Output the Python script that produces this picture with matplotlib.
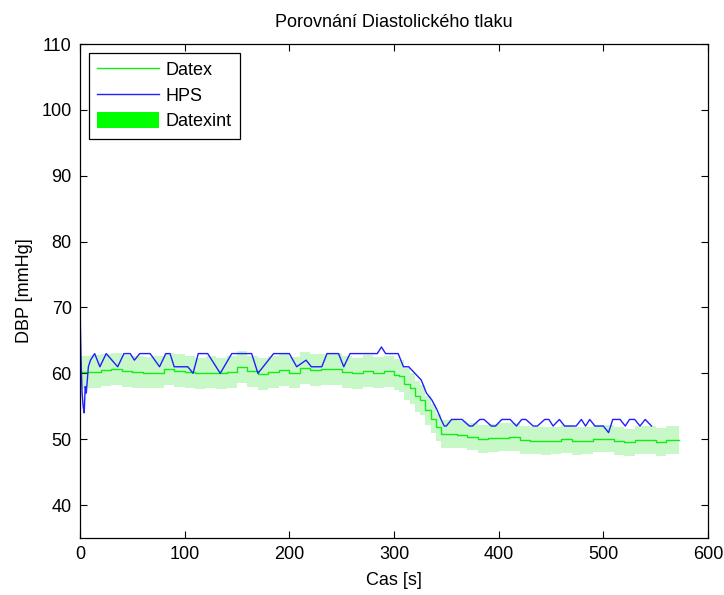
import numpy as np
import matplotlib.pyplot as plt
from matplotlib.patches import Patch
from matplotlib.lines import Line2D

plt.rcParams['font.family'] = ['Liberation Sans Narrow', 'Liberation Sans', 'DejaVu Sans']

# Datex (step data, s / mmHg)
t_datex = [0, 10, 20, 30, 40, 50, 60, 70, 80, 90, 100, 110, 120, 130, 140, 150,
           160, 170, 180, 190, 200, 210, 220, 230, 240, 250, 260, 270, 280, 290,
           300, 305, 310, 315, 320, 325, 330, 335, 340, 345,
           350, 360, 370, 380, 390, 400, 410, 420, 430, 440, 450, 460, 470, 480,
           490, 500, 510, 520, 530, 540, 550, 560, 572]
datex = [60.2, 60.2, 60.5, 60.7, 60.3, 60.2, 60.1, 60.1, 60.7, 60.4, 60.2, 60.0,
         60.1, 60.0, 60.2, 61.0, 60.3, 59.9, 60.2, 60.5, 60.1, 60.8, 60.5, 60.6,
         60.6, 60.2, 60.0, 60.4, 60.1, 60.4,
         59.8, 59.6, 58.4, 57.8, 56.5, 55.9, 54.4, 53.1, 51.8, 50.8,
         50.75, 50.7, 50.4, 50.0, 50.2, 50.25, 50.3, 49.9, 49.8, 49.75, 49.8,
         50.0, 49.75, 49.8, 50.1, 50.1, 49.75, 49.5, 49.85, 49.85, 49.55, 49.85,
         49.85]
datex_hi = [62.7, 62.8, 63.0, 63.1, 62.8, 62.6, 62.5, 62.6, 63.1, 62.9, 62.7, 62.4,
            62.6, 62.4, 62.6, 63.4, 62.7, 62.3, 62.6, 62.9, 62.5, 63.2, 62.9, 63.0,
            63.1, 62.6, 62.4, 62.8, 62.5, 62.7,
            62.2, 62.0, 60.8, 60.1, 58.8, 58.2, 56.6, 55.3, 53.9, 52.9,
            52.9, 52.8, 52.5, 52.1, 52.3, 52.4, 52.4, 52.0, 51.9, 51.9, 51.9,
            52.1, 51.9, 51.9, 52.2, 52.2, 51.9, 51.6, 52.0, 52.0, 51.7, 52.0, 52.0]
datex_lo = [57.8, 57.8, 58.1, 58.3, 57.9, 57.8, 57.7, 57.7, 58.3, 58.0, 57.8, 57.6,
            57.7, 57.6, 57.8, 58.6, 57.9, 57.5, 57.8, 58.1, 57.7, 58.4, 58.1, 58.2,
            58.2, 57.8, 57.6, 58.0, 57.7, 58.0,
            57.4, 57.2, 56.0, 55.4, 54.2, 53.6, 52.2, 51.0, 49.7, 48.7,
            48.7, 48.6, 48.3, 47.9, 48.1, 48.2, 48.2, 47.8, 47.7, 47.6, 47.7,
            47.9, 47.6, 47.7, 48.0, 48.0, 47.6, 47.4, 47.7, 47.7, 47.4, 47.7, 47.7]

# HPS
t_hps = [0, 1, 2, 3, 4, 5, 6, 8, 10, 14, 19, 25, 36, 42, 48, 52, 57, 67, 76, 82,
         86, 90, 103, 108, 113, 122, 134, 145, 164, 170, 185, 200, 207, 216, 221,
         231, 236, 247, 252, 258, 284, 288, 292, 304, 309, 314, 320, 326, 331,
         336, 341, 345, 348, 350, 355, 365, 372, 375, 382, 386, 393, 397, 403,
         411, 417, 422, 426, 433, 437, 444, 448, 452, 458, 463, 474, 479, 483,
         487, 492, 500, 505, 509, 516, 521, 525, 530, 535, 540, 546]
hps = [70, 62, 57, 55, 54, 58, 57, 61, 62, 63, 61, 63, 61, 63, 63, 62, 63, 63, 61,
       63, 63, 61, 61, 60, 63, 63, 60, 63, 63, 60, 63, 63, 61, 62, 61, 61, 63, 63,
       61, 63, 63, 64, 63, 63, 61, 61, 60, 59, 57, 56, 54.5, 53, 52, 52, 53, 53,
       52, 52, 53, 53, 52, 52, 53, 53, 52, 53, 53, 52, 52, 53, 53, 52, 53, 52, 52,
       53, 52, 53, 52, 52, 51, 53, 53, 52, 53, 53, 52, 53, 52]

fig = plt.figure(figsize=(7.24, 5.95), dpi=100)
ax = fig.add_axes([0.1105, 0.0958, 0.8674, 0.8302])

green = '#11ee11'
blue = '#1f1fff'
band = '#c8f8c8'

ax.fill_between(t_datex, datex_lo, datex_hi, step='post', color=band, lw=0)
ax.plot(t_datex, datex, color=green, lw=1.0, drawstyle='steps-post')
ax.plot(t_hps, hps, color=blue, lw=1.0)

ax.set_xlim(0, 600)
ax.set_ylim(35, 110)
ax.set_xticks(np.arange(0, 601, 100))
ax.set_yticks(np.arange(40, 111, 10))
ax.tick_params(direction='in', top=True, right=True, length=5, width=0.8,
               labelsize=13, pad=6)
for s in ax.spines.values():
    s.set_linewidth(0.9)

ax.set_title('Porovnání Diastolického tlaku', fontsize=13, pad=12)
ax.set_xlabel('Cas [s]', fontsize=13, labelpad=6)
ax.set_ylabel('DBP [mmHg]', fontsize=13, labelpad=6)

handles = [Line2D([], [], color=green, lw=1.0),
           Line2D([], [], color=blue, lw=1.0),
           Patch(facecolor='#00ff00', edgecolor='none')]
leg = ax.legend(handles, ['Datex', 'HPS', 'Datexint'], loc='upper left',
                fontsize=13, fancybox=False, framealpha=1, edgecolor='black',
                handlelength=3.4, handleheight=1.0, handletextpad=0.4,
                labelspacing=0.4, borderpad=0.45, borderaxespad=0.5)
leg.get_frame().set_linewidth(0.9)

fig.savefig('out.png', dpi=100)
